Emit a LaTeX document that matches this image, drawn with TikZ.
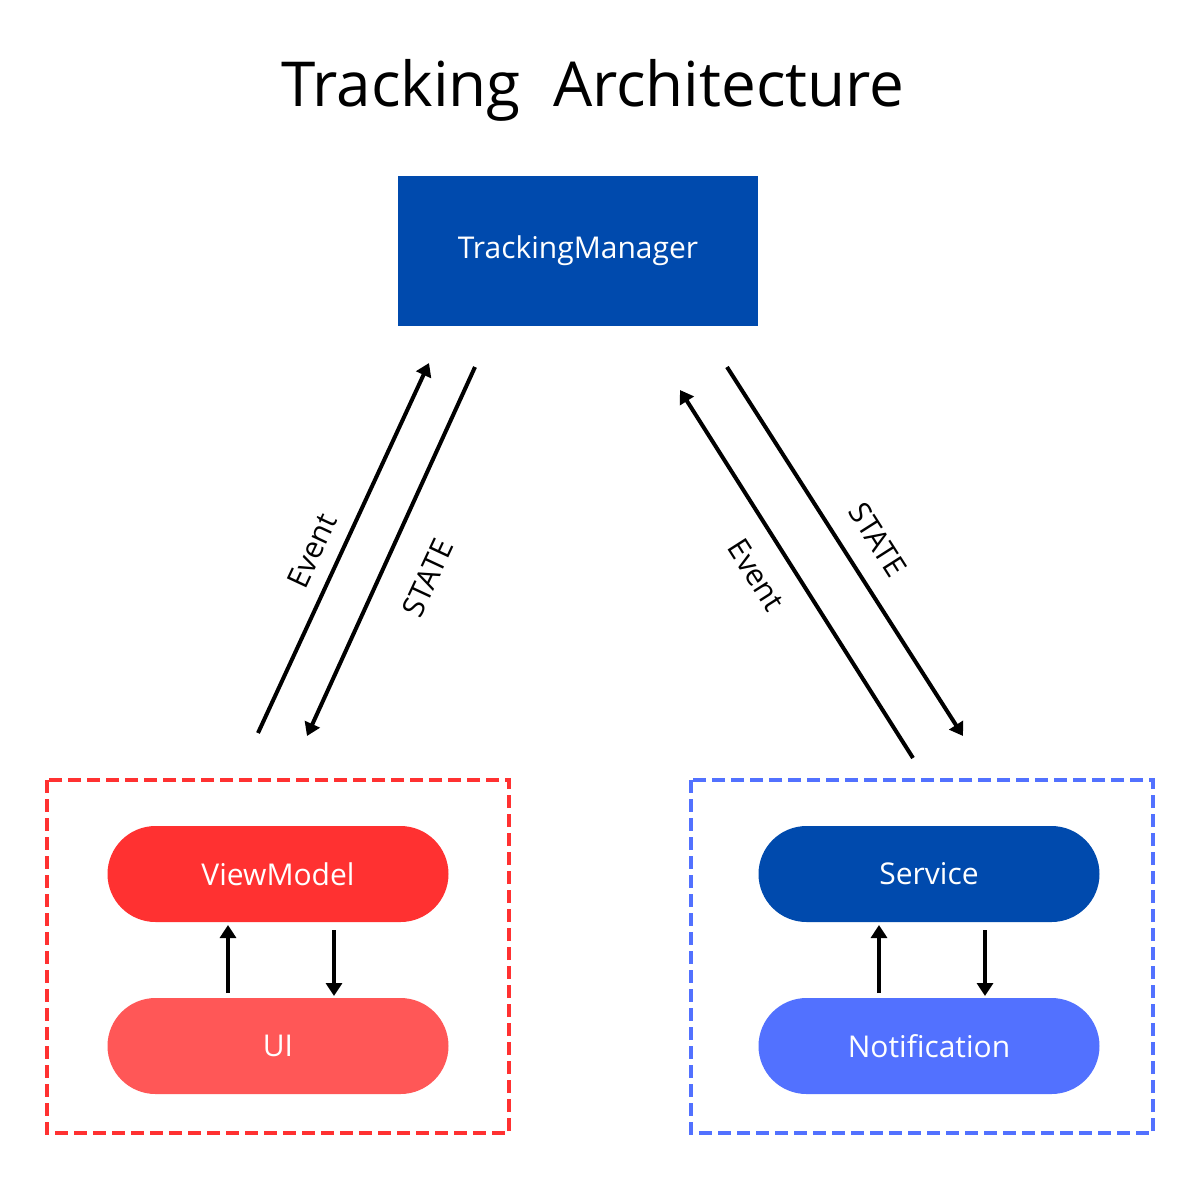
\documentclass[tikz,border=0pt]{standalone}
\usepackage{fontspec}
\setmainfont{Open Sans}
\usetikzlibrary{arrows.meta}
\definecolor{tmblue}{HTML}{004AAD}
\definecolor{vmred}{HTML}{FF3131}
\definecolor{uired}{HTML}{FF5757}
\definecolor{nblue}{HTML}{5271FF}
\tikzset{
  pill/.style={rounded corners=48pt, minimum width=341pt, minimum height=96pt,
    inner sep=0pt, text=white, font=\fontsize{30}{33}\selectfont},
  groupbox/.style={line width=3.5pt, dash pattern=on 13pt off 6pt},
  flow/.style={line width=4pt, -{Triangle[length=13pt,width=16pt]}},
  lbl/.style={font=\fontsize{30}{33}\selectfont, inner sep=0pt}
}
\begin{document}
\begin{tikzpicture}[x=1pt,y=-1pt]
\useasboundingbox (0,0) rectangle (1200,1200);
\fill[white] (0,0) rectangle (1200,1200);

\node[font=\fontsize{62}{68}\selectfont, anchor=base] (title) at (593,106) {Tracking\ \ Architecture};

\node[fill=tmblue, minimum width=360pt, minimum height=150pt, inner sep=0pt,
  text=white, font=\fontsize{30}{33}\selectfont] (tm) at (578,251) {\raisebox{-3pt}{TrackingManager}};

% groups
\draw[groupbox, vmred] (47,780) rectangle (509,1133);
\draw[groupbox, nblue] (691,780) rectangle (1153,1133);

\node[pill, fill=vmred] (vm) at (278,874) {ViewModel};
\node[pill, fill=uired] (ui) at (278,1046) {UI};
\node[pill, fill=tmblue] (svc) at (929,874) {Service};
\node[pill, fill=nblue] (notif) at (929,1046) {Notification};

% inner arrows
\coordinate (a1s) at (228,993); \coordinate (a1e) at (228,925);
\coordinate (a2s) at (334,930); \coordinate (a2e) at (334,996);
\coordinate (a3s) at (879,993); \coordinate (a3e) at (879,925);
\coordinate (a4s) at (985,930); \coordinate (a4e) at (985,996);
\draw[flow] (a1s) -- (a1e);
\draw[flow] (a2s) -- (a2e);
\draw[flow] (a3s) -- (a3e);
\draw[flow] (a4s) -- (a4e);

% diagonal arrows
\coordinate (le1) at (258,733); \coordinate (le2) at (429,363);
\coordinate (ls1) at (475,367); \coordinate (ls2) at (307,736);
\coordinate (re1) at (913,758); \coordinate (re2) at (680,390);
\coordinate (rs1) at (727,367); \coordinate (rs2) at (963,736);
\draw[flow] (le1) -- (le2);
\draw[flow] (ls1) -- (ls2);
\draw[flow] (re1) -- (re2);
\draw[flow] (rs1) -- (rs2);

\node[lbl, rotate=65] (lev) at (312,551) {Event};
\node[lbl, rotate=65] (lst) at (428,578) {STATE};
\node[lbl, rotate=-57.5] (rev) at (756,575) {Event};
\node[lbl, rotate=-57.5] (rst) at (878,540) {STATE};
\end{tikzpicture}
\end{document}
